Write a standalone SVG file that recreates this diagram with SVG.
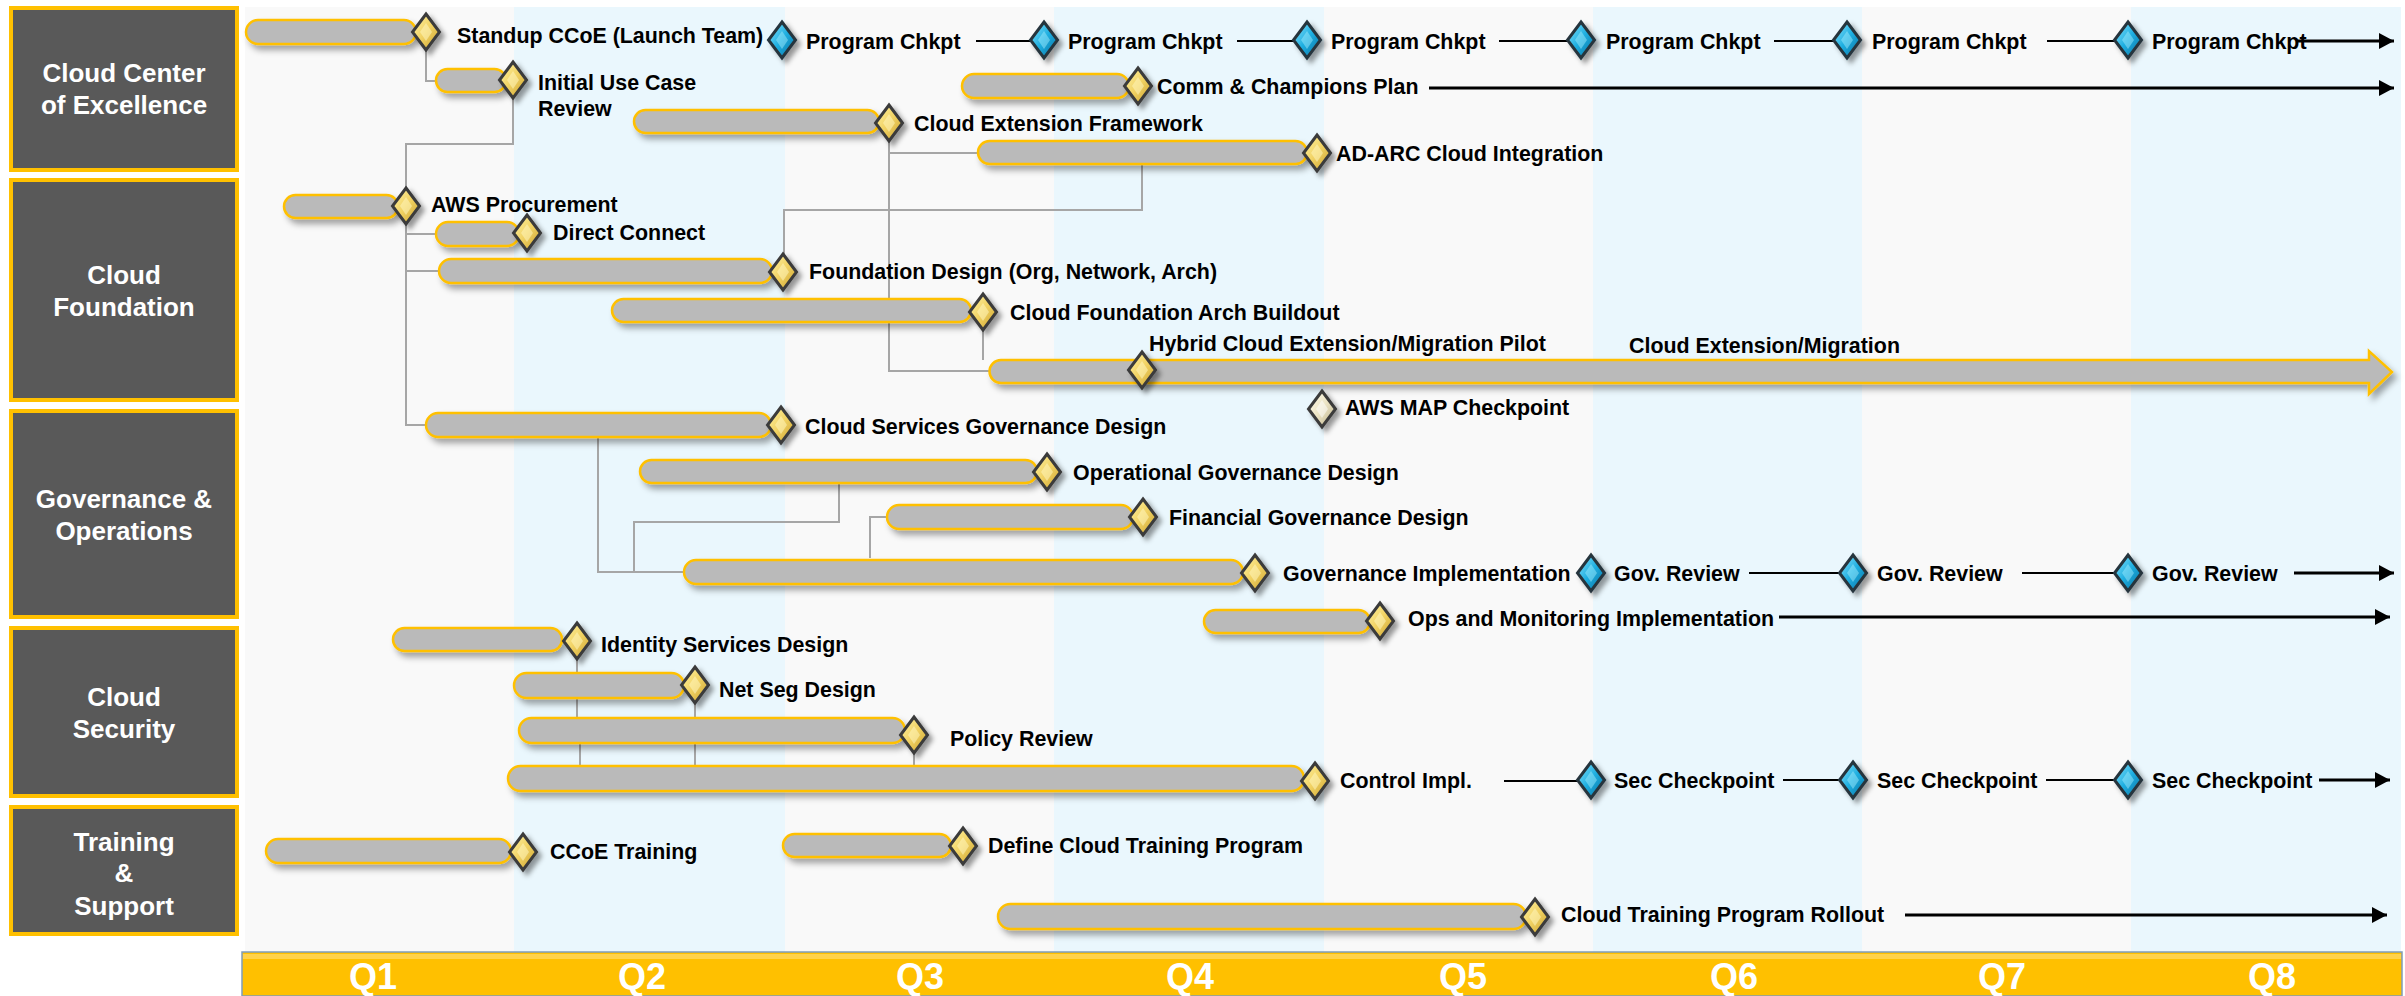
<svg xmlns="http://www.w3.org/2000/svg" xmlns:xlink="http://www.w3.org/1999/xlink" width="2405" height="996" viewBox="0 0 2405 996">
<style>
.cat{fill:#595959;stroke:#FFC000;stroke-width:4}
.ct{font-family:"Liberation Sans",Arial,sans-serif;font-weight:bold;font-size:26px;fill:#fff;text-anchor:middle}
.lb{font-family:"Liberation Sans",Arial,sans-serif;font-weight:bold;font-size:21.4px;fill:#000}
.q{font-family:"Liberation Sans",Arial,sans-serif;font-weight:bold;font-size:36px;fill:#fff;text-anchor:middle}
.bar{fill:#bababa;stroke:#FFC000;stroke-width:2.5;filter:url(#sh)}
.dep{fill:none;stroke:#a6a6a6;stroke-width:2}
.ln{fill:none;stroke:#000;stroke-width:2}
.ar{fill:none;stroke:#000;stroke-width:3;marker-end:url(#ah)}
.cg{fill:#f9f9f9}
.cb{fill:#eaf7fd}
</style>
<defs>
<filter id="sh" x="-5%" y="-40%" width="115%" height="200%">
<feDropShadow dx="4" dy="5" stdDeviation="3" flood-color="#000" flood-opacity="0.35"/>
</filter>
<filter id="dsh" x="-50%" y="-50%" width="220%" height="220%">
<feDropShadow dx="4" dy="4" stdDeviation="2.5" flood-color="#000" flood-opacity="0.4"/>
</filter>
<linearGradient id="gGold" x1="0" y1="0" x2="1" y2="1">
<stop offset="0" stop-color="#fff4a8"/>
<stop offset="0.5" stop-color="#f1d263"/>
<stop offset="1" stop-color="#c89f2c"/>
</linearGradient>
<linearGradient id="gBlue" x1="0" y1="0" x2="1" y2="1">
<stop offset="0" stop-color="#8ee6ff"/>
<stop offset="0.5" stop-color="#1eaee0"/>
<stop offset="1" stop-color="#0a6c9c"/>
</linearGradient>
<linearGradient id="gCream" x1="0" y1="0" x2="1" y2="1">
<stop offset="0" stop-color="#fffdf0"/>
<stop offset="0.5" stop-color="#ece4c4"/>
<stop offset="1" stop-color="#b7ad88"/>
</linearGradient>
<g id="dg" filter="url(#dsh)">
<polygon points="0,-18 13.5,0 0,18 -13.5,0" fill="url(#gGold)" stroke="#3a3a3a" stroke-width="3"/>
<polygon points="0,-9 6,0 0,9 -6,0" fill="#fff6bd" opacity="0.55"/>
</g>
<g id="db" filter="url(#dsh)">
<polygon points="0,-18 13.5,0 0,18 -13.5,0" fill="url(#gBlue)" stroke="#26343d" stroke-width="3"/>
<polygon points="0,-9 6,0 0,9 -6,0" fill="#a8f0ff" opacity="0.45"/>
</g>
<g id="dc" filter="url(#dsh)">
<polygon points="0,-18 13.5,0 0,18 -13.5,0" fill="url(#gCream)" stroke="#3a3a3a" stroke-width="3"/>
<polygon points="0,-9 6,0 0,9 -6,0" fill="#ffffff" opacity="0.5"/>
</g>
<marker id="ah" markerUnits="userSpaceOnUse" markerWidth="16" markerHeight="16" refX="15" refY="8" orient="auto">
<path d="M0,0 L15,8 L0,16 Z" fill="#000"/>
</marker>
</defs>

<g id="background">
<rect class="cg" x="245" y="7" width="269" height="945"/>
<rect class="cb" x="514" y="7" width="271" height="945"/>
<rect class="cg" x="785" y="7" width="269" height="945"/>
<rect class="cb" x="1054" y="7" width="270" height="945"/>
<rect class="cg" x="1324" y="7" width="269" height="945"/>
<rect class="cb" x="1593" y="7" width="269" height="945"/>
<rect class="cg" x="1862" y="7" width="269" height="945"/>
<rect class="cb" x="2131" y="7" width="270" height="945"/>
</g>

<g id="axis">
<rect x="242" y="952" width="2160" height="44" fill="#FFC000" stroke="#7f9db9" stroke-width="1.5"/>
<rect x="243" y="954" width="2158" height="5" fill="#ffd24a"/>
<text class="q" x="373" y="989">Q1</text>
<text class="q" x="642" y="989">Q2</text>
<text class="q" x="920" y="989">Q3</text>
<text class="q" x="1190" y="989">Q4</text>
<text class="q" x="1463" y="989">Q5</text>
<text class="q" x="1734" y="989">Q6</text>
<text class="q" x="2002" y="989">Q7</text>
<text class="q" x="2272" y="989">Q8</text>
</g>

<g id="cat-ccoe">
<rect class="cat" x="11" y="8" width="226" height="162"/>
<text class="ct" x="124" y="82">Cloud Center</text>
<text class="ct" x="124" y="114">of Excellence</text>
</g>
<g id="cat-foundation">
<rect class="cat" x="11" y="180" width="226" height="220"/>
<text class="ct" x="124" y="284">Cloud</text>
<text class="ct" x="124" y="316">Foundation</text>
</g>
<g id="cat-governance">
<rect class="cat" x="11" y="411" width="226" height="206"/>
<text class="ct" x="124" y="508">Governance &amp;</text>
<text class="ct" x="124" y="540">Operations</text>
</g>
<g id="cat-security">
<rect class="cat" x="11" y="628" width="226" height="168"/>
<text class="ct" x="124" y="706">Cloud</text>
<text class="ct" x="124" y="738">Security</text>
</g>
<g id="cat-training">
<rect class="cat" x="11" y="807" width="226" height="127"/>
<text class="ct" x="124" y="851">Training</text>
<text class="ct" x="124" y="882">&amp;</text>
<text class="ct" x="124" y="915">Support</text>
</g>

<g id="connectors">
<path class="dep" d="M426 50 V81 H436"/>
<path class="dep" d="M513 98 V144 H406 V425 H426"/>
<path class="dep" d="M406 234 H436"/>
<path class="dep" d="M406 271 H439"/>
<path class="dep" d="M889 140 V371 H989"/>
<path class="dep" d="M889 153 H978"/>
<path class="dep" d="M1142 164 V210 H784 V255"/>
<path class="dep" d="M983 328 V360"/>
<path class="dep" d="M598 437 V572 H684"/>
<path class="dep" d="M839 483 V522 H634 V572"/>
<path class="dep" d="M887 517 H870 V558"/>
<path class="dep" d="M577 658 V717"/>
<path class="dep" d="M580 743 V765"/>
<path class="dep" d="M695 702 V717"/>
<path class="dep" d="M695 743 V765"/>
<path class="dep" d="M914 752 V765"/>
<path class="ln" d="M976 41 H1032"/>
<path class="ln" d="M1237 41 H1295"/>
<path class="ln" d="M1499 41 H1569"/>
<path class="ln" d="M1774 41 H1835"/>
<path class="ln" d="M2047 41 H2116"/>
<path class="ar" d="M2297 41 H2394"/>
<path class="ar" d="M1429 88 H2394"/>
<path class="ln" d="M1749 573 H1841"/>
<path class="ln" d="M2022 573 H2116"/>
<path class="ar" d="M2294 573 H2394"/>
<path class="ar" d="M1779 617 H2390"/>
<path class="ln" d="M1504 781 H1579"/>
<path class="ln" d="M1783 780 H1841"/>
<path class="ln" d="M2046 780 H2116"/>
<path class="ar" d="M2319 780 H2390"/>
<path class="ar" d="M1905 915 H2387"/>
</g>

<g id="n-standup">
<rect class="bar" x="246" y="20" width="170" height="24" rx="12"/>
<use href="#dg" x="426" y="32"/>
<text class="lb" x="457" y="43">Standup CCoE (Launch Team)</text>
</g>
<g id="n-chkpt1"><use href="#db" x="782" y="40"/><text class="lb" x="806" y="49">Program Chkpt</text></g>
<g id="n-chkpt2"><use href="#db" x="1044" y="40"/><text class="lb" x="1068" y="49">Program Chkpt</text></g>
<g id="n-chkpt3"><use href="#db" x="1307" y="40"/><text class="lb" x="1331" y="49">Program Chkpt</text></g>
<g id="n-chkpt4"><use href="#db" x="1581" y="40"/><text class="lb" x="1606" y="49">Program Chkpt</text></g>
<g id="n-chkpt5"><use href="#db" x="1847" y="40"/><text class="lb" x="1872" y="49">Program Chkpt</text></g>
<g id="n-chkpt6"><use href="#db" x="2128" y="40"/><text class="lb" x="2152" y="49">Program Chkpt</text></g>

<g id="n-initial">
<rect class="bar" x="436" y="69" width="70" height="23" rx="11.5"/>
<use href="#dg" x="513" y="80"/>
<text class="lb" x="538" y="90">Initial Use Case</text>
<text class="lb" x="538" y="116">Review</text>
</g>
<g id="n-comm">
<rect class="bar" x="962" y="74" width="167" height="24" rx="12"/>
<use href="#dg" x="1138" y="86"/>
<text class="lb" x="1157" y="94">Comm &amp; Champions Plan</text>
</g>
<g id="n-cef">
<rect class="bar" x="634" y="110" width="245" height="23" rx="11.5"/>
<use href="#dg" x="889" y="123"/>
<text class="lb" x="914" y="131">Cloud Extension Framework</text>
</g>
<g id="n-adarc">
<rect class="bar" x="978" y="141" width="329" height="23" rx="11.5"/>
<use href="#dg" x="1317" y="153"/>
<text class="lb" x="1336" y="161">AD-ARC Cloud Integration</text>
</g>

<g id="n-awsproc">
<rect class="bar" x="284" y="195" width="114" height="23" rx="11.5"/>
<use href="#dg" x="406" y="206"/>
<text class="lb" x="431" y="212">AWS Procurement</text>
</g>
<g id="n-direct">
<rect class="bar" x="436" y="222" width="83" height="24" rx="12"/>
<use href="#dg" x="527" y="233"/>
<text class="lb" x="553" y="240">Direct Connect</text>
</g>
<g id="n-fdesign">
<rect class="bar" x="439" y="259" width="333" height="24" rx="12"/>
<use href="#dg" x="783" y="272"/>
<text class="lb" x="809" y="279">Foundation Design (Org, Network, Arch)</text>
</g>
<g id="n-cfarch">
<rect class="bar" x="612" y="299" width="359" height="23" rx="11.5"/>
<use href="#dg" x="983" y="312"/>
<text class="lb" x="1010" y="320">Cloud Foundation Arch Buildout</text>
</g>
<g id="n-hybrid">
<path d="M1001 360 H2369 V351 L2392 372 L2369 394 V383 H1001 A11.5 11.5 0 0 1 1001 360 Z" fill="#bababa" stroke="#FFC000" stroke-width="2.5" filter="url(#sh)"/>
<use href="#dg" x="1142" y="370"/>
<text class="lb" x="1149" y="351">Hybrid Cloud Extension/Migration Pilot</text>
<text class="lb" x="1629" y="353">Cloud Extension/Migration</text>
</g>
<g id="n-awsmap">
<use href="#dc" x="1322" y="409"/>
<text class="lb" x="1345" y="415">AWS MAP Checkpoint</text>
</g>

<g id="n-csgov">
<rect class="bar" x="426" y="413" width="345" height="24" rx="12"/>
<use href="#dg" x="781" y="425"/>
<text class="lb" x="805" y="434">Cloud Services Governance Design</text>
</g>
<g id="n-opgov">
<rect class="bar" x="640" y="460" width="397" height="23" rx="11.5"/>
<use href="#dg" x="1047" y="472"/>
<text class="lb" x="1073" y="480">Operational Governance Design</text>
</g>
<g id="n-fingov">
<rect class="bar" x="887" y="505" width="246" height="24" rx="12"/>
<use href="#dg" x="1143" y="517"/>
<text class="lb" x="1169" y="525">Financial Governance Design</text>
</g>
<g id="n-govimpl">
<rect class="bar" x="684" y="560" width="559" height="24" rx="12"/>
<use href="#dg" x="1255" y="573"/>
<text class="lb" x="1283" y="581">Governance Implementation</text>
</g>
<g id="n-gov1"><use href="#db" x="1591" y="573"/><text class="lb" x="1614" y="581">Gov. Review</text></g>
<g id="n-gov2"><use href="#db" x="1853" y="573"/><text class="lb" x="1877" y="581">Gov. Review</text></g>
<g id="n-gov3"><use href="#db" x="2128" y="573"/><text class="lb" x="2152" y="581">Gov. Review</text></g>
<g id="n-ops">
<rect class="bar" x="1204" y="610" width="166" height="23" rx="11.5"/>
<use href="#dg" x="1380" y="621"/>
<text class="lb" x="1408" y="626">Ops and Monitoring Implementation</text>
</g>

<g id="n-identity">
<rect class="bar" x="393" y="628" width="169" height="23" rx="11.5"/>
<use href="#dg" x="577" y="641"/>
<text class="lb" x="601" y="652">Identity Services Design</text>
</g>
<g id="n-netseg">
<rect class="bar" x="514" y="673" width="170" height="25" rx="12.5"/>
<use href="#dg" x="695" y="685"/>
<text class="lb" x="719" y="697">Net Seg Design</text>
</g>
<g id="n-policy">
<rect class="bar" x="519" y="718" width="386" height="25" rx="12.5"/>
<use href="#dg" x="914" y="735"/>
<text class="lb" x="950" y="746">Policy Review</text>
</g>
<g id="n-control">
<rect class="bar" x="508" y="766" width="796" height="25" rx="12.5"/>
<use href="#dg" x="1315" y="781"/>
<text class="lb" x="1340" y="788">Control Impl.</text>
</g>
<g id="n-sec1"><use href="#db" x="1591" y="780"/><text class="lb" x="1614" y="788">Sec Checkpoint</text></g>
<g id="n-sec2"><use href="#db" x="1853" y="780"/><text class="lb" x="1877" y="788">Sec Checkpoint</text></g>
<g id="n-sec3"><use href="#db" x="2128" y="780"/><text class="lb" x="2152" y="788">Sec Checkpoint</text></g>

<g id="n-ccoetrain">
<rect class="bar" x="266" y="839" width="245" height="24" rx="12"/>
<use href="#dg" x="523" y="852"/>
<text class="lb" x="550" y="859">CCoE Training</text>
</g>
<g id="n-define">
<rect class="bar" x="783" y="834" width="168" height="23" rx="11.5"/>
<use href="#dg" x="963" y="846"/>
<text class="lb" x="988" y="853">Define Cloud Training Program</text>
</g>
<g id="n-rollout">
<rect class="bar" x="998" y="904" width="528" height="25" rx="12.5"/>
<use href="#dg" x="1535" y="917"/>
<text class="lb" x="1561" y="922">Cloud Training Program Rollout</text>
</g>
</svg>
